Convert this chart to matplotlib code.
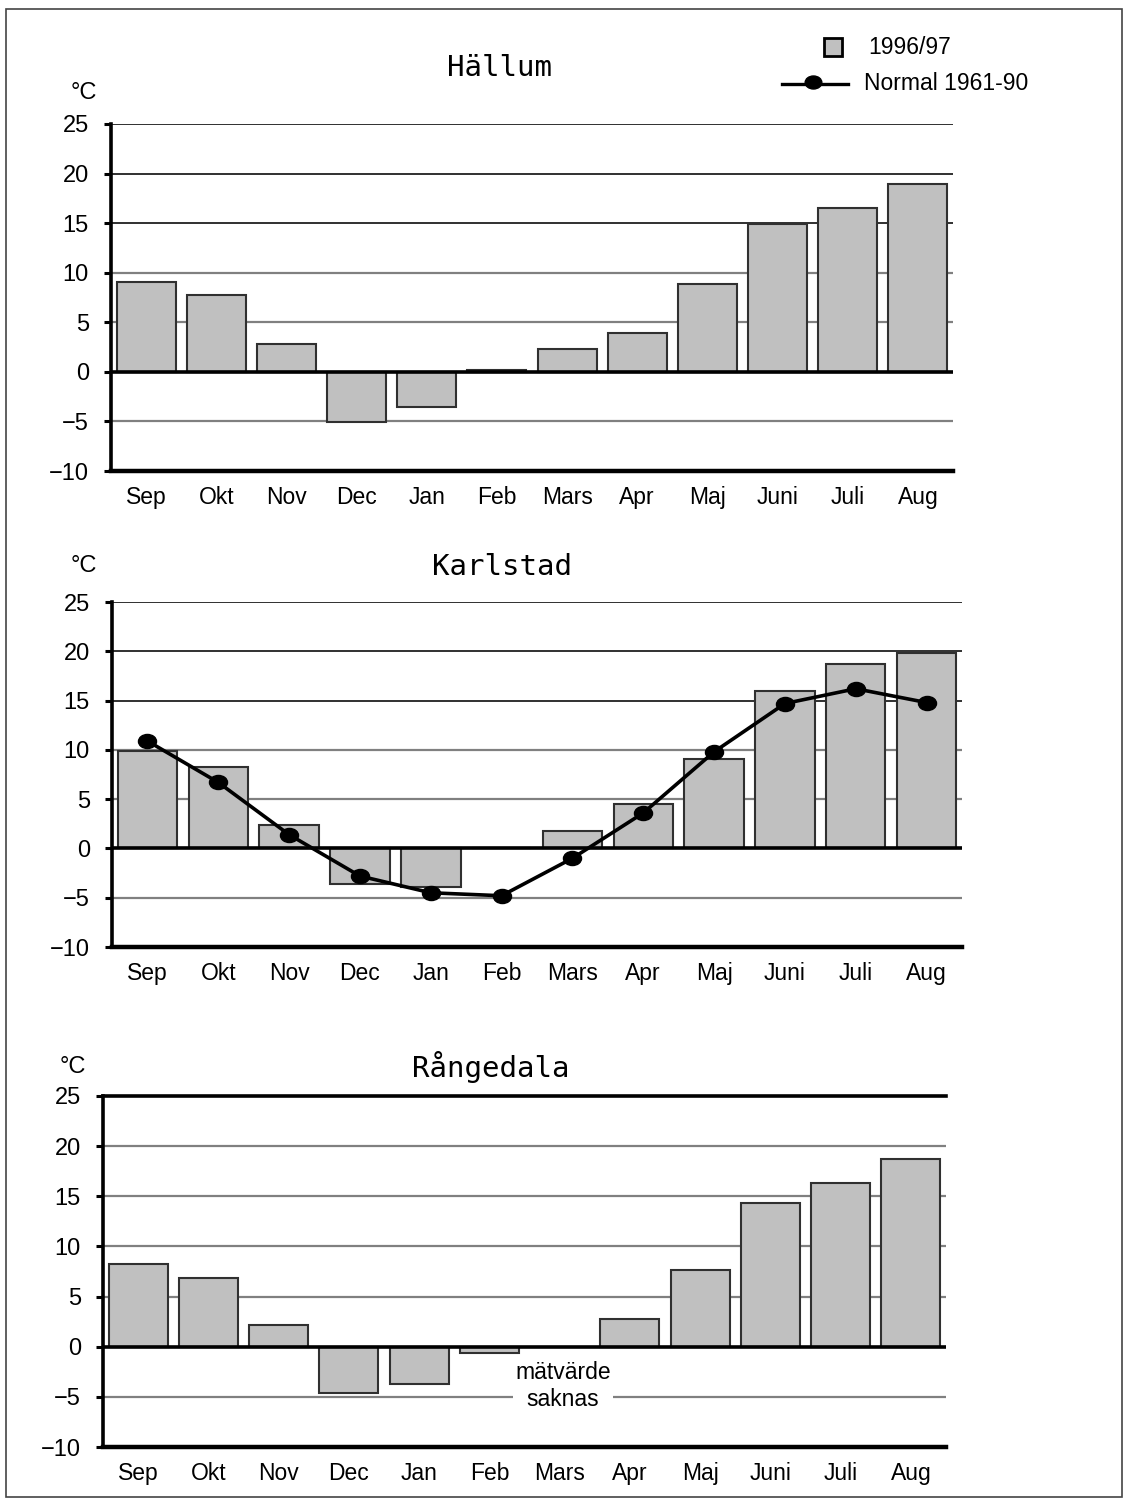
import numpy as np
import matplotlib
matplotlib.use("Agg")
import matplotlib.pyplot as plt
from matplotlib.patches import Rectangle
from matplotlib.lines import Line2D
from matplotlib.path import Path
from matplotlib.transforms import Affine2D
from matplotlib import font_manager

# ---- data -------------------------------------------------------------
months = ["Sep", "Okt", "Nov", "Dec", "Jan", "Feb", "Mars", "Apr", "Maj",
          "Juni", "Juli", "Aug"]

hallum_9697 = [9.1, 7.8, 2.8, -5.1, -3.5, 0.2, 2.3, 3.9, 8.9, 14.9, 16.5, 18.9]

karlstad_9697 = [9.9, 8.3, 2.4, -3.6, -3.9, 0.0, 1.8, 4.5, 9.1, 16.0, 18.7, 19.8]
karlstad_normal = [10.9, 6.7, 1.4, -2.8, -4.5, -4.8, -1.0, 3.6, 9.8, 14.7, 16.2, 14.8]

rangedala_9697 = [8.2, 6.9, 2.2, -4.6, -3.7, -0.6, np.nan, 2.8, 7.6, 14.3, 16.3, 18.7]

y_ticks = [-10, -5, 0, 5, 10, 15, 20, 25]
y_tick_labels = ["\u221210", "\u22125", "0", "5", "10", "15", "20", "25"]

legend_labels = ["1996/97", "Normal 1961-90"]
missing_note = "mätvärde\nsaknas"

# ---- styling ----------------------------------------------------------
W, H = 1126, 1501
BAR_FACE = "#c0c0c0"
BAR_EDGE = "#303030"
GRID_DARK = "#202020"
GRID_GRAY = "#808080"

available = {f.name for f in font_manager.fontManager.ttflist}
SANS = "Liberation Sans"
NARROW = "Liberation Sans Narrow" if "Liberation Sans Narrow" in available else SANS
NARROW_SIZE = 19 if NARROW != SANS else 16.5
TITLE_FONT = "DejaVu Sans Mono"

plt.rcParams["font.family"] = [SANS, "DejaVu Sans"]

fig = plt.figure(figsize=(W / 100, H / 100), dpi=100)


def rect(left, right, top, bottom):
    return [left / W, 1 - bottom / H, (right - left) / W, (bottom - top) / H]


def fx(x):
    return x / W


def fy(y):
    return 1 - y / H


# elliptical dot used for the normal-temperature markers
ellipse = Path.unit_circle().transformed(Affine2D().scale(1.0, 0.78))


def panel(pos, values, dark_levels, gray_levels, top_spine=False):
    ax = fig.add_axes(pos)
    x = np.arange(len(months))
    ax.set_xlim(-0.5, len(months) - 0.5)
    ax.set_ylim(-10, 25)

    for v in dark_levels:
        ax.axhline(v, color=GRID_DARK, lw=1.3, zorder=0.5)
    for v in gray_levels:
        ax.axhline(v, color=GRID_GRAY, lw=1.6, zorder=0.5)

    ax.bar(x, values, width=0.84, color=BAR_FACE, edgecolor=BAR_EDGE,
           linewidth=1.5, zorder=2)
    ax.axhline(0, color="black", lw=2.6, zorder=3)

    ax.spines["right"].set_visible(False)
    ax.spines["top"].set_visible(top_spine)
    ax.spines["top"].set_linewidth(2.6)
    ax.spines["left"].set_linewidth(2.6)
    ax.spines["bottom"].set_linewidth(3.2)

    ax.set_yticks(y_ticks)
    ax.set_yticklabels(y_tick_labels)
    ax.set_xticks(x)
    ax.set_xticklabels(months)
    ax.tick_params(axis="y", direction="out", length=5, width=2.2,
                   labelsize=17, pad=11)
    ax.tick_params(axis="x", length=0, labelsize=16.5, pad=11)
    ax.set_facecolor("none")
    return ax


# ---- Hällum -------------------------------------------------------------
ax1 = panel(rect(111, 953, 124, 471), hallum_9697,
            dark_levels=[25, 20, 15], gray_levels=[10, 5, -5])
fig.text(fx(499), fy(68), "Hällum", family=TITLE_FONT, fontsize=21,
         ha="center", va="center")
fig.text(fx(84), fy(93), "°C", fontsize=17, ha="center", va="center")

# ---- Karlstad -----------------------------------------------------------
ax2 = panel(rect(112, 962, 602, 947), karlstad_9697,
            dark_levels=[25, 20, 15], gray_levels=[10, 5, -5])
ax2.plot(np.arange(len(months)), karlstad_normal, color="black", lw=2.6,
         marker=ellipse, markersize=13, markerfacecolor="black",
         markeredgecolor="black", zorder=4)
fig.text(fx(502), fy(567), "Karlstad", family=TITLE_FONT, fontsize=21,
         ha="center", va="center")
fig.text(fx(84), fy(566), "°C", fontsize=17, ha="center", va="center")

# ---- Rångedala ----------------------------------------------------------
ax3 = panel(rect(103, 946, 1096, 1447), rangedala_9697,
            dark_levels=[], gray_levels=[20, 15, 10, 5, -5], top_spine=True)
ax3.text(months.index("Mars") + 0.05, -3.9, missing_note, ha="center",
         va="center", fontsize=16.5, linespacing=1.2, zorder=5,
         bbox=dict(facecolor="white", edgecolor="none", pad=1.5))
fig.text(fx(491), fy(1067), "Rångedala", family=TITLE_FONT, fontsize=21,
         ha="center", va="center")
fig.text(fx(73), fy(1067), "°C", fontsize=17, ha="center", va="center")

# ---- legend -------------------------------------------------------------
fig.patches.append(Rectangle((fx(824), fy(56)), 18 / W, 18 / H,
                             transform=fig.transFigure, facecolor=BAR_FACE,
                             edgecolor="black", lw=2))
fig.text(fx(868), fy(47), legend_labels[0], family=[NARROW, "DejaVu Sans"],
         fontsize=NARROW_SIZE, ha="left", va="center")
fig.lines.append(Line2D([fx(782), fx(848)], [fy(84), fy(84)],
                        transform=fig.transFigure, color="black", lw=2.4))
fig.lines.append(Line2D([fx(813)], [fy(82)], transform=fig.transFigure,
                        marker=ellipse, markersize=12, color="black", lw=0))
fig.text(fx(864), fy(83), legend_labels[1], family=[NARROW, "DejaVu Sans"],
         fontsize=NARROW_SIZE, ha="left", va="center")

# outer frame
fig.patches.append(Rectangle((fx(6), fy(1497)), (1122 - 6) / W, (1497 - 9) / H,
                             transform=fig.transFigure, facecolor="none",
                             edgecolor="#444444", lw=1.2))

fig.savefig("out.png", dpi=100)
